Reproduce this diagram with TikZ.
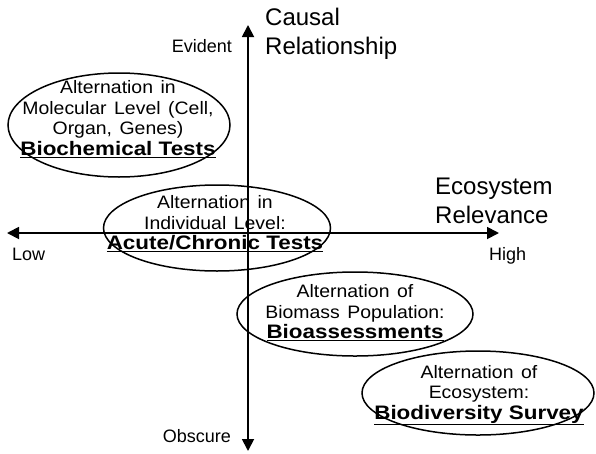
\documentclass[tikz,border=0pt]{standalone}
\usepackage{fontspec}
\setmainfont{Liberation Sans}
\newfontfamily\ovalfont[FakeStretch=1.08,WordSpace=1.4]{Liberation Sans}
\newfontfamily\ovalbf[FakeStretch=1.15]{Liberation Sans Bold}
\usetikzlibrary{arrows.meta,shapes.geometric}
\newcommand\btfont{\ovalbf\fontsize{19.5}{20}\selectfont}
\begin{document}
\begin{tikzpicture}[x=1pt,y=-1pt,
  axis/.style={line width=1.8pt,{Triangle[width=12pt,length=12pt]}-{Triangle[width=12pt,length=12pt]}},
  oval/.style={draw,line width=1.5pt,ellipse,inner sep=0pt},
  txt/.style={align=center,font=\ovalfont\fontsize{18}{20.5}\selectfont,inner sep=0pt},
  lbl/.style={font=\fontsize{18}{20}\selectfont,inner sep=0pt},
  big/.style={align=left,font=\fontsize{24}{28.5}\selectfont,inner sep=0pt}]
\useasboundingbox (0,0) rectangle (596,453);
% axes
\coordinate (top) at (248,25);
\coordinate (bot) at (248,451);
\coordinate (lft) at (7,233);
\coordinate (rgt) at (499,233);
\draw[axis] (bot) -- (top);
\draw[axis] (lft) -- (rgt);
% axis labels
\node[lbl,anchor=base east] (evident) at (232,52) {Evident};
\node[lbl,anchor=base east] (obscure) at (231,442) {Obscure};
\node[lbl,anchor=base west] (low) at (12,260) {Low};
\node[lbl,anchor=base west] (high) at (489,260) {High};
\node[big,anchor=west] (causal) at (265,34) {Causal\\Relationship};
\node[big,anchor=west] (eco) at (435,201) {Ecosystem\\Relevance};
% ellipses
\node[oval,minimum width=222pt,minimum height=104pt] (e1) at (119,125) {};
\node[oval,minimum width=227pt,minimum height=86pt] (e2) at (217,228) {};
\node[oval,minimum width=236pt,minimum height=84pt] (e3) at (355,314) {};
\node[oval,minimum width=232pt,minimum height=84pt] (e4) at (478,393) {};
% texts
\node[txt] (t1) at (118,119) {Alternation in\\Molecular Level (Cell,\\Organ, Genes)\\{\btfont\underline{Biochemical Tests}}};
\node[txt] (t2) at (215,224) {Alternation in\\Individual Level:\\{\btfont\underline{Acute/Chronic Tests}}};
\node[txt] (t3) at (355,313) {Alternation of\\Biomass Population:\\{\btfont\underline{Bioassessments}}};
\node[txt] (t4) at (479,395) {Alternation of\\Ecosystem:\\{\btfont\underline{Biodiversity Survey}}};
\end{tikzpicture}
\end{document}
